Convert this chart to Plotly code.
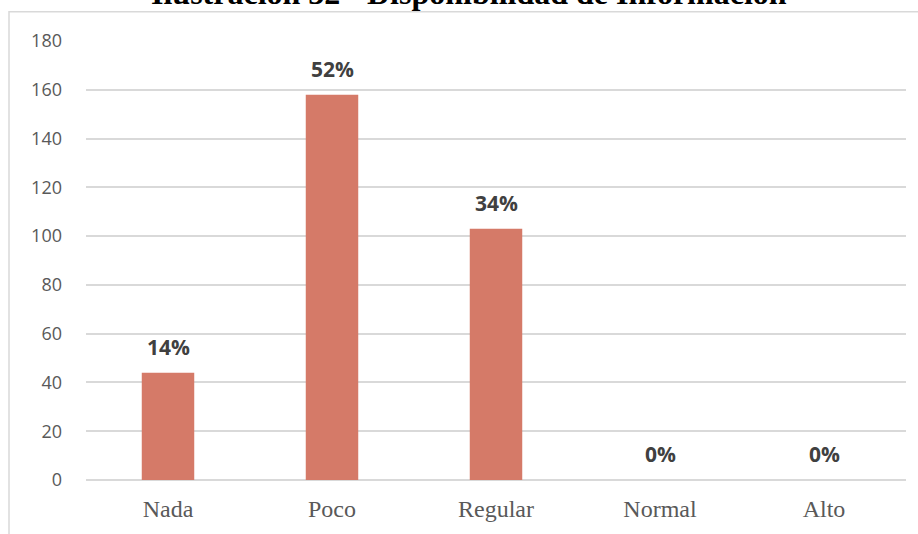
import plotly.graph_objects as go

categories = ["Nada", "Poco", "Regular", "Normal", "Alto"]
values = [44, 158, 103, 0, 0]
labels = ["14%", "52%", "34%", "0%", "0%"]
y_ticks = [0, 20, 40, 60, 80, 100, 120, 140, 160, 180]
title_text = "Ilustración 32 - Disponibilidad de Información"

fig = go.Figure()
fig.add_trace(go.Bar(
    x=categories, y=values,
    marker=dict(color="#d57a68", line=dict(width=0)),
    width=0.32,
    hoverinfo="x+y",
))

annotations = [dict(
    text="<b>" + title_text + "</b>", xref="paper", yref="paper",
    x=(469 - 86) / 820, y=1 + (41 - 13) / 442, xanchor="center", yanchor="bottom",
    showarrow=False,
    font=dict(family="Liberation Serif", size=32, color="#000000"),
)]
for c, v, t in zip(categories, values, labels):
    annotations.append(dict(
        x=c, y=v, xref="x", yref="y", text="<b>" + t + "</b>",
        showarrow=False, xanchor="center", yanchor="bottom", yshift=10,
        font=dict(family="Open Sans", size=21, color="#404040"),
    ))

fig.update_layout(
    width=918, height=534,
    margin=dict(l=86, r=12, t=41, b=51),
    plot_bgcolor="white", paper_bgcolor="white",
    showlegend=False,
    xaxis=dict(
        showgrid=False, showline=False, ticks="",
        tickfont=dict(family="Liberation Serif", size=24, color="#595959"),
        ticklabelstandoff=12,
    ),
    yaxis=dict(
        range=[0, 180], tickvals=y_ticks,
        showgrid=True, gridcolor="#d9d9d9", gridwidth=1.5,
        zeroline=True, zerolinecolor="#d9d9d9", zerolinewidth=1.5,
        showline=False, ticks="",
        tickfont=dict(family="Open Sans", size=18, color="#595959"),
        ticklabelstandoff=23,
    ),
    shapes=[dict(
        type="rect", xref="paper", yref="paper",
        x0=(9 - 86) / 820, x1=1.1, y0=-0.3, y1=1 + (41 - 11.5) / 442,
        line=dict(color="#d9d9d9", width=1.5), fillcolor="rgba(0,0,0,0)",
        layer="below",
    )],
    annotations=annotations,
)

fig.write_html("out.html", config={"displayModeBar": False},
               post_script="document.body.style.margin='0px';")
